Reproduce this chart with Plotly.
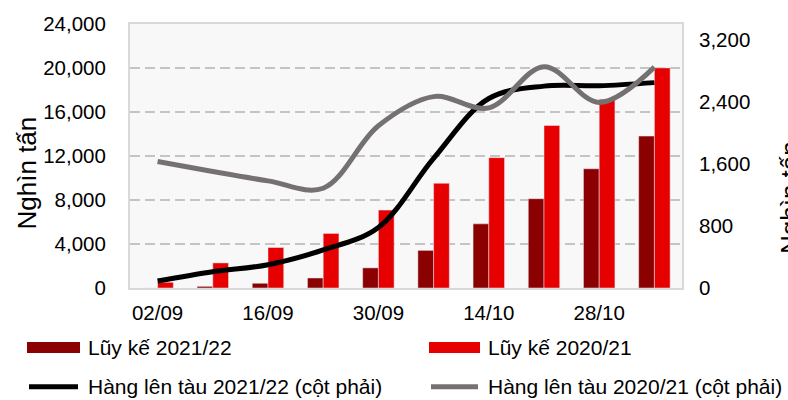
import plotly.graph_objects as go

# ---- data ----
categories = ["02/09", "09/09", "16/09", "23/09", "30/09", "07/10", "14/10", "21/10", "28/10", "04/11"]
tick_labels = ["02/09", "16/09", "30/09", "14/10", "28/10"]
luy_ke_2021_22 = [0, 150, 430, 910, 1830, 3420, 5830, 8120, 10840, 13810]
luy_ke_2020_21 = [520, 2280, 3680, 4960, 7080, 9520, 11850, 14770, 17150, 20010]
hang_len_tau_2021_22 = [90, 210, 300, 490, 780, 1670, 2440, 2600, 2605, 2645]
hang_len_tau_2020_21 = [1630, 1500, 1380, 1285, 2090, 2465, 2320, 2850, 2390, 2845]

W, H = 788, 400
L, R, T, B = 130, 682, 20, 288.5
FONT = "Liberation Sans, Arial, sans-serif"

C_DARK = "#8B0000"
C_RED = "#E60000"
C_BLACK = "#000000"
C_GRAY = "#767171"


def px_x(px):
    return (px - L) / (R - L)


def px_y(py):
    return (B - py) / (B - T)


fig = go.Figure()
fig.add_bar(x=categories, y=luy_ke_2021_22, name="Lũy kế 2021/22", marker=dict(color=C_DARK))
fig.add_bar(x=categories, y=luy_ke_2020_21, name="Lũy kế 2020/21", marker=dict(color=C_RED))
fig.add_scatter(x=categories, y=hang_len_tau_2021_22, yaxis="y2", mode="lines",
                name="Hàng lên tàu 2021/22 (cột phải)",
                line=dict(color=C_BLACK, width=5, shape="spline", smoothing=1))
fig.add_scatter(x=categories, y=hang_len_tau_2020_21, yaxis="y2", mode="lines",
                name="Hàng lên tàu 2020/21 (cột phải)",
                line=dict(color=C_GRAY, width=5, shape="spline", smoothing=1))

# manual legend
shapes = []
annotations = []
legend_items = [
    ("rect", C_DARK, "Lũy kế 2021/22", 27, 80, 86, 349),
    ("rect", C_RED, "Lũy kế 2020/21", 429, 480, 486, 349),
    ("line", C_BLACK, "Hàng lên tàu 2021/22 (cột phải)", 27, 80, 86, 389),
    ("line", C_GRAY, "Hàng lên tàu 2020/21 (cột phải)", 429, 480, 486, 389),
]
for kind, col, text, x0, x1, tx, yc in legend_items:
    if kind == "rect":
        shapes.append(dict(type="rect", xref="paper", yref="paper",
                           x0=px_x(x0), x1=px_x(x1), y0=px_y(yc - 5.5), y1=px_y(yc + 5.5),
                           fillcolor=col, line=dict(width=0)))
    else:
        shapes.append(dict(type="line", xref="paper", yref="paper",
                           x0=px_x(x0 + 2), x1=px_x(x1 - 2), y0=px_y(yc), y1=px_y(yc),
                           line=dict(color=col, width=5)))
    annotations.append(dict(text=text, xref="paper", yref="paper", x=px_x(tx), y=px_y(yc),
                            xanchor="left", yanchor="middle", showarrow=False,
                            font=dict(size=21, color="#000000", family=FONT)))

# axis titles
annotations.append(dict(text="Nghìn tấn", xref="paper", yref="paper", x=px_x(27), y=px_y(172),
                        textangle=-90, xanchor="center", yanchor="middle", showarrow=False,
                        font=dict(size=26, color="#000000", family=FONT)))
annotations.append(dict(text="Nghìn tấn", xref="paper", yref="paper", x=px_x(790), y=px_y(197),
                        textangle=-90, xanchor="center", yanchor="middle", showarrow=False,
                        font=dict(size=26, color="#000000", family=FONT)))

fig.update_layout(
    width=W, height=H,
    margin=dict(l=L, r=W - R, t=T, b=H - B, pad=0),
    paper_bgcolor="#FFFFFF",
    plot_bgcolor="#F8F8F8",
    showlegend=False,
    barmode="group",
    bargap=0.43,
    bargroupgap=0,
    font=dict(family=FONT, size=20, color="#000000"),
    xaxis=dict(
        type="category",
        tickmode="array", tickvals=tick_labels, ticktext=tick_labels,
        showgrid=False, showline=True, linecolor="#D9D9D9", linewidth=2, mirror=True,
        ticks="", ticklabelstandoff=5,
        tickfont=dict(size=20.5, family=FONT, color="#000000"),
    ),
    yaxis=dict(
        range=[0, 24000], dtick=4000, tickformat=",d",
        showgrid=True, gridcolor="#C4C4C4", gridwidth=1.5, griddash="10px,5px",
        zeroline=False, showline=True, linecolor="#D9D9D9", linewidth=2, mirror=True,
        ticks="", ticklabelstandoff=18,
        tickfont=dict(size=20.5, family=FONT, color="#000000"),
    ),
    yaxis2=dict(
        overlaying="y", side="right",
        range=[0, 3400], tickvals=[0, 800, 1600, 2400, 3200], tickformat=",d",
        showgrid=False, zeroline=False, showline=False,
        ticks="", ticklabelstandoff=16,
        tickfont=dict(size=20.5, family=FONT, color="#000000"),
    ),
    shapes=shapes,
    annotations=annotations,
)

fig.write_html("out.html", config={"displayModeBar": False},
               post_script="document.body.style.margin='0';")
